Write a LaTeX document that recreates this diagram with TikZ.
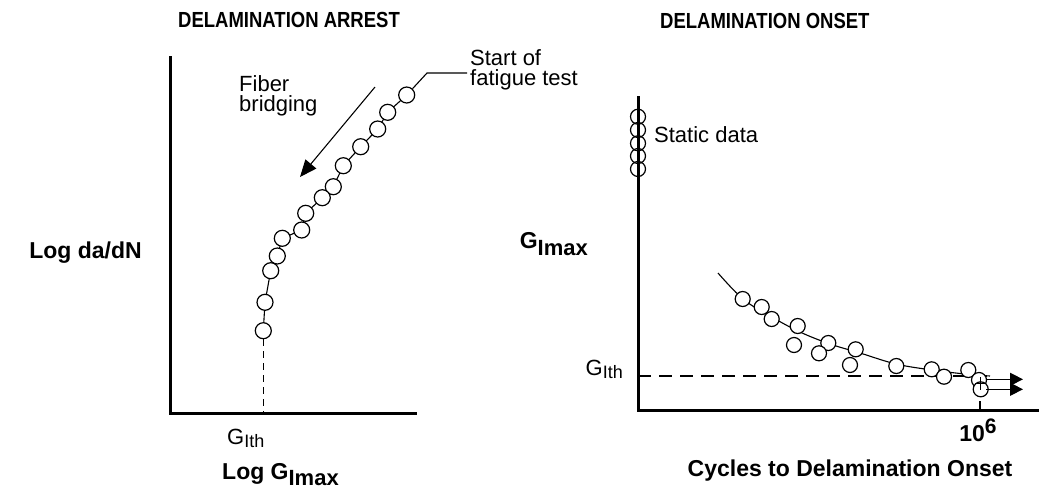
\documentclass[tikz,border=0pt]{standalone}
\usepackage{fontspec}
\setmainfont{Liberation Sans}
\usetikzlibrary{arrows.meta}
\newcommand{\subG}[3]{G\raisebox{-#3pt}{\fontsize{#2}{#2}\selectfont #1}}
\newcommand{\tallt}[1]{\scalebox{1}[1.18]{#1}}
\tikzset{
  axis/.style={line width=3pt, line cap=rect},
  dot/.style={circle, draw, line width=1.2pt, fill=white, minimum size=16pt, inner sep=0pt},
  sdot/.style={circle, draw, line width=1.2pt, minimum size=15pt, inner sep=0pt},
  rdot/.style={circle, draw, line width=1.2pt, fill=white, minimum size=15pt, inner sep=0pt},
  title/.style={font=\bfseries\fontsize{18.5}{20}\selectfont, inner sep=0pt},
  alabel/.style={font=\bfseries\fontsize{23}{25}\selectfont, inner sep=0pt},
  note/.style={font=\fontsize{22}{23}\selectfont, inner sep=0pt, align=left},
  thin/.style={line width=1.1pt},
}
\begin{document}
\begin{tikzpicture}[x=1pt, y=-1pt]
\useasboundingbox (0,0) rectangle (1039,491);
% ---------------- left panel ----------------
\node[title, anchor=base west] (tl) at (178,27) {\tallt{DELAMINATION ARREST}};
\coordinate (lo) at (170,413);
\coordinate (ly) at (170,57);
\coordinate (lx) at (415,413);
\draw[axis] (ly) -- (lo) -- (lx);
\coordinate (L1) at (406.7,95);
\coordinate (L2) at (387.7,112.3);
\coordinate (L3) at (377.7,129);
\coordinate (L4) at (360.7,146.7);
\coordinate (L5) at (343.3,165.7);
\coordinate (L6) at (333.3,186.7);
\coordinate (L7) at (322.3,197.7);
\coordinate (L8) at (305.7,213.3);
\coordinate (L9) at (301.7,230);
\coordinate (L10) at (282.3,238.3);
\coordinate (L11) at (277.3,256);
\coordinate (L12) at (270.7,270.7);
\coordinate (L13) at (265,302.3);
\coordinate (L14) at (263.3,330.7);
\draw[thin] (L1) -- (L2) -- (L3) -- (L4) -- (L5) -- (L6) -- (L7) -- (L8) -- (L9) -- (L10) -- (L11) -- (L12) -- (L13) -- (L14);
\foreach \i in {1,...,14} \node[dot] (c\i) at (L\i) {};
\coordinate (gth) at (263.3,413);
\draw[line width=1.1pt, dash pattern=on 7pt off 5pt] (c14.south) -- (gth);
\coordinate (lk) at (427,73);
\coordinate (le) at (467,73);
\draw[thin] (c1) -- (lk) -- (le);
\node[note, anchor=north west] (st) at (470,49) {Start of\\[-3pt]fatigue test};
\coordinate (fa) at (375,87);
\coordinate (fb) at (300,177);
\draw[thin, -{Triangle[length=17pt,width=14pt]}] (fa) -- (fb);
\node[note, anchor=north west] (fib) at (239,75) {Fiber\\[-3pt]bridging};
\node[note, anchor=base west] (gl) at (227,444) {\subG{Ith}{18}{3}};
\node[alabel, anchor=base west] (xl) at (222,479) {Log \subG{Imax}{22}{6}};
\node[alabel, anchor=base east] (yl) at (142,258) {Log da/dN};
% ---------------- right panel ----------------
\node[title, anchor=base west] (tr) at (660,28) {\tallt{DELAMINATION ONSET}};
\coordinate (ro) at (638,410);
\coordinate (ry) at (638,97);
\coordinate (rx) at (1039,410);
\node[sdot] (s1) at (638,116.7) {};
\node[sdot] (s2) at (638,130) {};
\node[sdot] (s3) at (638,143.3) {};
\node[sdot] (s4) at (638,156) {};
\node[sdot] (s5) at (638,169) {};
\draw[axis] (ry) -- (ro) -- (rx);
\node[note, anchor=base west] (sd) at (654,142) {Static data};
\draw[thin] plot[smooth, tension=0.6] coordinates {(718,273) (743,299) (770,316) (800,332) (830,344) (860,353) (896,364) (932,370) (965,374) (990,376)};
\coordinate (da) at (638,376);
\coordinate (db) at (990,376);
\draw[line width=1.1pt, dash pattern=on 13pt off 8pt] (da) -- (db);
\node[rdot] (r1) at (742.7,299) {};
\node[rdot] (r2) at (761.7,307) {};
\node[rdot] (r3) at (771.7,319) {};
\node[rdot] (r4) at (797.7,326) {};
\node[rdot] (r5) at (794,345) {};
\node[rdot] (r6) at (828.3,343) {};
\node[rdot] (r7) at (819,353.3) {};
\node[rdot] (r8) at (855.7,349.3) {};
\node[rdot] (r9) at (850,365) {};
\node[rdot] (r10) at (896.3,366) {};
\node[rdot] (r11) at (931.7,369.3) {};
\node[rdot] (r12) at (944,376.7) {};
\node[rdot] (r13) at (968.3,370) {};
\node[rdot] (r14) at (979,380) {};
\node[rdot] (r15) at (980.7,389.3) {};
\coordinate (a1s) at (986,379.3);
\coordinate (a1e) at (1023,379.3);
\coordinate (a2s) at (986,389.3);
\coordinate (a2e) at (1023,389.3);
\draw[thin, -{Triangle[length=13pt,width=13pt]}] (a1s) -- (a1e);
\draw[thin, -{Triangle[length=13pt,width=13pt]}] (a2s) -- (a2e);
\coordinate (p1) at (980.7,377);
\coordinate (p2) at (980.7,390);
\coordinate (p3) at (975,383.3);
\coordinate (p4) at (986,383.3);
\draw[thin] (p1) -- (p2);
\draw[thin] (p3) -- (p4);
\coordinate (tk) at (980,401);
\coordinate (tk2) at (980,410);
\draw[thin] (tk) -- (tk2);
\node[alabel, anchor=base] (ten) at (978,441) {10\raisebox{8pt}{\fontsize{21}{21}\selectfont 6}};
\node[alabel, anchor=base] (cl) at (850,476) {Cycles to Delamination Onset};
\node[note, anchor=base east] (gr) at (623,375) {\subG{Ith}{18}{3}};
\node[alabel, anchor=base east] (gm) at (588,248) {\subG{Imax}{22}{7}};
\end{tikzpicture}
\end{document}
